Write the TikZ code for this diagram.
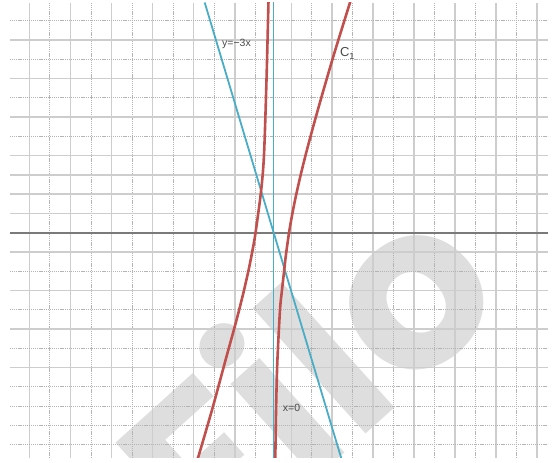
\documentclass[tikz,border=0pt]{standalone}
\usepackage{fontspec}
\setmainfont{Liberation Sans}
\newfontfamily\filofont{Poppins}
\definecolor{rot}{HTML}{C0504D}
\definecolor{blau}{HTML}{4BACC6}
\definecolor{netz}{HTML}{CDCDCD}
\definecolor{netzd}{HTML}{B4B4B4}
\definecolor{achse}{HTML}{7A7A7A}
\definecolor{schrift}{HTML}{4A4A4A}
\definecolor{wasser}{HTML}{DEDEDE}
\tikzset{
  gitter/.style={netz,line width=1.5pt},
  gitterd/.style={netzd,line width=0.7pt,dash pattern=on 1.2pt off 0.9pt},
  achsel/.style={achse,line width=2pt},
  kurve/.style={rot,line width=2.6pt},
  gerade/.style={blau,line width=1.8pt},
  beschr/.style={schrift,font=\fontsize{10.5}{12}\selectfont,inner sep=0pt},
  marke/.style={wasser,font=\filofont\bfseries\fontsize{228}{236}\selectfont,inner sep=0pt},
}

\begin{document}
\begin{tikzpicture}[x=1pt,y=1pt]
  \useasboundingbox (-273.5,-230) rectangle (278.5,233);
  \begin{scope}
    \clip (-263.5,-224.5) rectangle (274.5,230);
    % watermark
    \node[marke,anchor=base east,rotate=42] (wz) at (240,-68) {Filo};
    % grid
    \foreach \i [evaluate=\i as \xx using -244.2+20.55*\i] in {0,2,...,10}
      \draw[gitter] (\xx,230) -- (\xx,-224.5);
    \foreach \i [evaluate=\i as \xx using -244.2+20.55*\i] in {1,3,...,11}
      \draw[gitterd] (\xx,230) -- (\xx,-224.5);
    \foreach \j [evaluate=\j as \xx using 17.8+20.47*\j] in {0,2,...,12}
      \draw[gitter] (\xx,230) -- (\xx,-224.5);
    \foreach \j [evaluate=\j as \xx using 17.8+20.47*\j] in {1,3,...,11}
      \draw[gitterd] (\xx,230) -- (\xx,-224.5);
    \foreach \k [evaluate=\k as \yy using 212.3-19.27*\k] in {1,3,5,7,8,9,10,12,14,16,18}
      \draw[gitter] (-263.5,\yy) -- (274.5,\yy);
    \foreach \k [evaluate=\k as \yy using 212.3-19.27*\k] in {0,2,4,6,13,15,17,19,20,21,22}
      \draw[gitterd] (-263.5,\yy) -- (274.5,\yy);
    \draw[achsel] (-263.5,0) -- (274.5,0);
    % lines
    \draw[gerade] (0,232) -- (0,-226);
    \draw[gerade] (-68.8,230.5) -- (68.3,-227);
    % C1
    \draw[kurve] plot[smooth] coordinates {(-5,232) (-7,153) (-9.5,78) (-12.5,41.3)
      (-18,0) (-20.5,-14.7) (-24.5,-35.1) (-30.5,-61.5) (-37.5,-89) (-47.5,-125.4)
      (-61.5,-177) (-77,-230)};
    \draw[kurve] plot[smooth] coordinates {(77,232) (60,177.1) (45,125.4) (35,89)
      (28,61.5) (22,35.1) (18,14.7) (15.5,0) (12.5,-21.3) (10.8,-36.2) (8.5,-57)
      (6.5,-77) (3.8,-130) (2.5,-180) (1.8,-228)};
  \end{scope}
  \node[beschr] (lgerade) at (-37,189) {y=−3x};
  \node[beschr,font=\fontsize{13}{15}\selectfont] (lkurve) at (74,179.5) {C\textsubscript{1}};
  \node[beschr] (lachse) at (18,-174.5) {x=0};
\end{tikzpicture}
\end{document}
